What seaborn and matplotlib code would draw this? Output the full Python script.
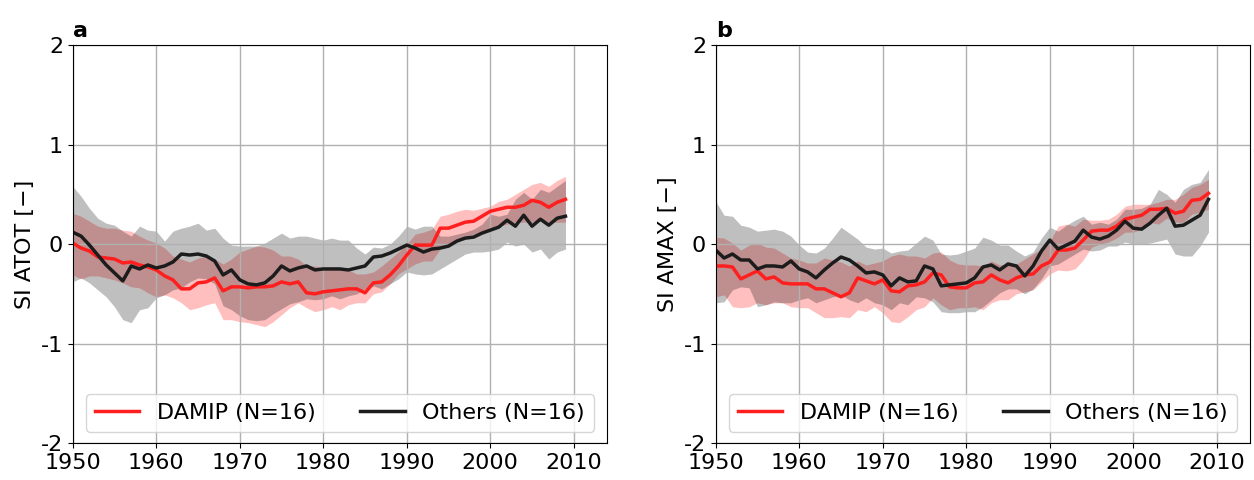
import numpy as np
import pandas as pd
import matplotlib
matplotlib.use("Agg")
import matplotlib.pyplot as plt
import seaborn as sns

years = list(range(1950, 2010))

# panel a: SI ATOT
atot_others = [0.12, 0.08, -0.01, -0.11, -0.21, -0.29, -0.37, -0.22, -0.25, -0.21,
               -0.24, -0.22, -0.18, -0.10, -0.11, -0.10, -0.12, -0.17, -0.31, -0.26,
               -0.36, -0.40, -0.41, -0.39, -0.32, -0.22, -0.27, -0.24, -0.22, -0.26,
               -0.25, -0.25, -0.25, -0.26, -0.24, -0.22, -0.13, -0.12, -0.09, -0.05,
               -0.01, -0.04, -0.08, -0.05, -0.04, -0.02, 0.03, 0.06, 0.07, 0.11,
               0.14, 0.17, 0.24, 0.18, 0.29, 0.18, 0.25, 0.19, 0.26, 0.28]
atot_damip = [0.01, -0.04, -0.07, -0.13, -0.14, -0.15, -0.19, -0.18, -0.21, -0.23,
              -0.26, -0.32, -0.36, -0.45, -0.45, -0.39, -0.38, -0.34, -0.47, -0.43,
              -0.43, -0.44, -0.43, -0.43, -0.42, -0.38, -0.40, -0.38, -0.49, -0.50,
              -0.48, -0.47, -0.46, -0.45, -0.45, -0.49, -0.39, -0.38, -0.31, -0.22,
              -0.11, -0.01, -0.01, -0.01, 0.16, 0.16, 0.19, 0.22, 0.23, 0.28,
              0.33, 0.35, 0.37, 0.37, 0.39, 0.44, 0.42, 0.37, 0.42, 0.45]
atot_others_hi = [0.58, 0.48, 0.36, 0.26, 0.21, 0.19, 0.13, 0.08, 0.18, 0.14,
                  0.13, 0.03, 0.13, 0.16, 0.18, 0.21, 0.14, 0.16, 0.06, -0.01,
                  -0.02, -0.02, -0.02, 0.01, 0.06, 0.11, 0.06, 0.08, 0.08, 0.06,
                  0.04, 0.06, 0.04, 0.04, -0.04, -0.10, -0.03, -0.04, 0.00, 0.08,
                  0.18, 0.15, 0.18, 0.18, 0.08, 0.08, 0.10, 0.12, 0.15, 0.20,
                  0.30, 0.28, 0.30, 0.45, 0.52, 0.45, 0.55, 0.52, 0.58, 0.64]
atot_others_lo = [-0.38, -0.34, -0.39, -0.46, -0.53, -0.63, -0.76, -0.79, -0.66, -0.64,
                  -0.54, -0.51, -0.46, -0.44, -0.38, -0.34, -0.35, -0.40, -0.62, -0.66,
                  -0.72, -0.76, -0.77, -0.76, -0.70, -0.65, -0.60, -0.58, -0.55, -0.56,
                  -0.55, -0.52, -0.55, -0.52, -0.50, -0.45, -0.42, -0.45, -0.40, -0.35,
                  -0.28, -0.30, -0.31, -0.30, -0.25, -0.20, -0.15, -0.10, -0.08, -0.08,
                  -0.07, -0.05, 0.02, -0.02, 0.00, -0.08, -0.05, -0.15, -0.08, -0.05]
atot_damip_hi = [0.31, 0.28, 0.23, 0.18, 0.16, 0.16, 0.14, 0.13, 0.08, 0.04,
                 0.01, -0.04, -0.12, -0.15, -0.18, -0.14, -0.12, -0.15, -0.20, -0.15,
                 -0.08, -0.05, -0.02, -0.03, -0.06, -0.12, -0.12, -0.15, -0.22, -0.22,
                 -0.24, -0.25, -0.25, -0.26, -0.30, -0.30, -0.28, -0.22, -0.15, -0.08,
                 0.00, 0.10, 0.12, 0.15, 0.28, 0.30, 0.33, 0.35, 0.34, 0.36,
                 0.38, 0.43, 0.45, 0.50, 0.55, 0.60, 0.62, 0.58, 0.64, 0.68]
atot_damip_lo = [-0.31, -0.35, -0.32, -0.32, -0.34, -0.36, -0.39, -0.43, -0.44, -0.49,
                 -0.53, -0.51, -0.54, -0.59, -0.66, -0.64, -0.61, -0.59, -0.76, -0.76,
                 -0.78, -0.79, -0.81, -0.83, -0.78, -0.71, -0.64, -0.59, -0.64, -0.68,
                 -0.66, -0.63, -0.66, -0.61, -0.59, -0.59, -0.50, -0.48, -0.40, -0.30,
                 -0.25, -0.20, -0.17, -0.17, -0.05, 0.00, 0.03, 0.08, 0.10, 0.12,
                 0.15, 0.18, 0.20, 0.22, 0.22, 0.22, 0.25, 0.22, 0.22, 0.22]

# panel b: SI AMAX
amax_others = [-0.06, -0.14, -0.10, -0.16, -0.16, -0.25, -0.22, -0.22, -0.23, -0.17,
               -0.25, -0.28, -0.34, -0.26, -0.19, -0.13, -0.16, -0.22, -0.29, -0.28,
               -0.31, -0.42, -0.34, -0.38, -0.37, -0.22, -0.25, -0.42, -0.41, -0.40,
               -0.39, -0.34, -0.23, -0.21, -0.26, -0.20, -0.22, -0.32, -0.22, -0.07,
               0.04, -0.05, -0.01, 0.03, 0.14, 0.07, 0.05, 0.08, 0.14, 0.23,
               0.16, 0.15, 0.21, 0.29, 0.36, 0.18, 0.19, 0.24, 0.29, 0.45]
amax_damip = [-0.22, -0.22, -0.23, -0.35, -0.31, -0.27, -0.35, -0.33, -0.39, -0.40,
              -0.40, -0.40, -0.45, -0.45, -0.49, -0.53, -0.49, -0.34, -0.37, -0.40,
              -0.36, -0.47, -0.48, -0.42, -0.41, -0.38, -0.29, -0.31, -0.43, -0.44,
              -0.44, -0.39, -0.38, -0.31, -0.36, -0.39, -0.34, -0.31, -0.30, -0.22,
              -0.18, -0.06, -0.06, -0.04, 0.04, 0.13, 0.14, 0.14, 0.18, 0.25,
              0.27, 0.29, 0.35, 0.35, 0.36, 0.31, 0.33, 0.44, 0.45, 0.51]
amax_others_hi = [0.43, 0.29, 0.28, 0.19, 0.17, 0.13, 0.14, 0.15, 0.13, 0.08,
                  -0.01, -0.08, -0.09, -0.04, 0.06, 0.17, 0.11, 0.05, -0.03, -0.05,
                  -0.04, -0.09, -0.07, -0.06, 0.01, 0.08, 0.04, -0.10, -0.11, -0.10,
                  -0.07, -0.04, 0.07, 0.04, -0.01, -0.01, -0.07, -0.12, -0.08, 0.06,
                  0.17, 0.13, 0.19, 0.24, 0.28, 0.20, 0.22, 0.20, 0.25, 0.35,
                  0.35, 0.36, 0.40, 0.55, 0.50, 0.42, 0.55, 0.60, 0.62, 0.75]
amax_others_lo = [-0.59, -0.58, -0.46, -0.43, -0.44, -0.63, -0.61, -0.58, -0.59, -0.59,
                  -0.56, -0.54, -0.59, -0.56, -0.53, -0.51, -0.56, -0.59, -0.54, -0.59,
                  -0.61, -0.66, -0.59, -0.61, -0.53, -0.54, -0.58, -0.68, -0.69, -0.69,
                  -0.68, -0.68, -0.63, -0.56, -0.49, -0.45, -0.45, -0.50, -0.45, -0.35,
                  -0.22, -0.20, -0.15, -0.10, -0.05, -0.07, -0.06, -0.02, -0.02, 0.02,
                  0.00, 0.00, 0.01, 0.03, 0.05, -0.10, -0.12, -0.12, -0.02, 0.12]
amax_damip_hi = [0.07, 0.06, 0.01, -0.06, -0.01, 0.01, -0.03, -0.04, -0.09, -0.14,
                 -0.16, -0.19, -0.19, -0.14, -0.16, -0.18, -0.22, -0.17, -0.21, -0.19,
                 -0.17, -0.12, -0.10, -0.12, -0.12, -0.14, -0.09, -0.08, -0.16, -0.20,
                 -0.21, -0.21, -0.22, -0.17, -0.21, -0.20, -0.20, -0.15, -0.10, -0.05,
                 0.03, 0.18, 0.20, 0.18, 0.25, 0.24, 0.24, 0.25, 0.30, 0.38,
                 0.40, 0.40, 0.40, 0.42, 0.45, 0.45, 0.50, 0.57, 0.60, 0.65]
amax_damip_lo = [-0.53, -0.51, -0.63, -0.64, -0.63, -0.59, -0.61, -0.59, -0.59, -0.63,
                 -0.64, -0.64, -0.69, -0.74, -0.74, -0.73, -0.74, -0.66, -0.68, -0.63,
                 -0.69, -0.78, -0.79, -0.73, -0.66, -0.63, -0.54, -0.61, -0.66, -0.64,
                 -0.64, -0.63, -0.66, -0.59, -0.56, -0.56, -0.50, -0.48, -0.46, -0.38,
                 -0.30, -0.26, -0.27, -0.25, -0.16, -0.03, 0.00, 0.02, 0.06, 0.12,
                 0.12, 0.15, 0.22, 0.20, 0.26, 0.22, 0.22, 0.30, 0.32, 0.35]

labels = ["DAMIP (N=16)", "Others (N=16)"]
panel_letters = ["a", "b"]
ylabels = ["SI ATOT [\u2212]", "SI AMAX [\u2212]"]
yticks = [-2, -1, 0, 1, 2]
ytick_labels = ["-2", "-1", "0", "1", "2"]

palette = {labels[0]: "#ff1f1f", labels[1]: "#1c1c1c"}

panels = [
    (atot_damip, atot_damip_lo, atot_damip_hi, atot_others, atot_others_lo, atot_others_hi),
    (amax_damip, amax_damip_lo, amax_damip_hi, amax_others, amax_others_lo, amax_others_hi),
]

plt.rcParams['font.family'] = ['DejaVu Sans']
fig, axes = plt.subplots(1, 2, figsize=(12.54, 4.8), dpi=100)
fig.subplots_adjust(left=0.058, right=0.997, bottom=0.077, top=0.906, wspace=0.203)

for i, ax in enumerate(axes):
    d_mean, d_lo, d_hi, o_mean, o_lo, o_hi = panels[i]
    df = pd.DataFrame({
        "year": years + years,
        "value": d_mean + o_mean,
        "group": [labels[0]] * len(years) + [labels[1]] * len(years),
    })

    # spread bands first, mean lines on top
    ax.fill_between(years, d_lo, d_hi, color="red", alpha=0.25, linewidth=0)
    ax.fill_between(years, o_lo, o_hi, color="black", alpha=0.25, linewidth=0)
    sns.lineplot(data=df, x="year", y="value", hue="group", palette=palette,
                 linewidth=2.5, ax=ax)

    ax.set_xlim(1950, 2014)
    ax.set_ylim(-2, 2)
    ax.set_xticks(range(1950, 2011, 10))
    ax.set_yticks(yticks)
    ax.set_yticklabels(ytick_labels)
    ax.tick_params(labelsize=16)
    ax.grid(True, color="#b0b0b0", linewidth=1)
    ax.set_xlabel("")
    ax.set_ylabel(ylabels[i], fontsize=16)
    ax.set_title(panel_letters[i], loc="left", fontsize=16, fontweight="bold")
    ax.legend(loc="lower center", ncol=2, fontsize=16)

fig.savefig("out.png", dpi=100)
